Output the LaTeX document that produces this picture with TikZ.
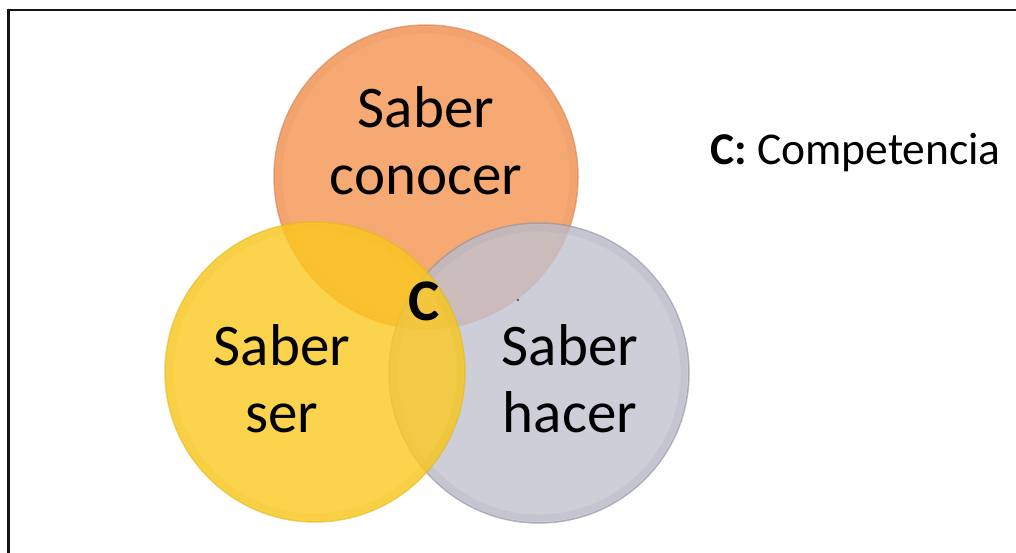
\documentclass[tikz,border=0pt]{standalone}
\usepackage{fontspec}
\setmainfont{Carlito}
\begin{document}
\begin{tikzpicture}[x=1pt,y=-1pt,
  disc/.style={circle,inner sep=0pt,minimum size=300pt,fill opacity=0.8,draw opacity=0.6,line width=1.5pt},
  bevel/.style={line width=7pt,draw opacity=0.12},
  bigtext/.style={anchor=base,inner sep=0pt,font=\fontsize{59}{70}\selectfont},
  legend/.style={anchor=base west,inner sep=0pt,font=\fontsize{45.5}{52}\selectfont}]
\definecolor{orangefill}{RGB}{246,148,80}
\definecolor{orangeedge}{RGB}{210,125,80}
\definecolor{yellowfill}{RGB}{252,201,32}
\definecolor{yellowedge}{RGB}{225,185,20}
\definecolor{grayfill}{RGB}{194,194,208}
\definecolor{grayedge}{RGB}{140,140,158}
\definecolor{frameline}{RGB}{20,20,20}
\useasboundingbox (0,0) rectangle (1016,553);
\fill[white] (0,0) rectangle (1016,553);
% frame: only the top and left sides
\coordinate (tl) at (8.5,10);
\coordinate (tr) at (1016,10);
\coordinate (bl) at (8.5,553);
\draw[frameline,line width=2.2pt] (bl) -- (tl) -- (tr);
% the three circles, each with a soft inner rim
\node[disc,fill=orangefill,draw=orangeedge,minimum size=304pt] (conocer) at (426,177) {};
\draw[bevel,orangeedge] (conocer.center) circle (147pt);
\node[disc,fill=grayfill,draw=grayedge] (hacer) at (539,373) {};
\draw[bevel,grayedge] (hacer.center) circle (145pt);
\node[disc,fill=yellowfill,draw=yellowedge] (ser) at (315,372) {};
\draw[bevel,yellowedge] (ser.center) circle (145pt);
% labels
\node[bigtext] (conocer1) at (426,128) {Saber};
\node[bigtext] (conocer2) at (426,195) {conocer};
\node[bigtext] (ser1) at (282,365) {Saber};
\node[bigtext] (ser2) at (282,432) {ser};
\node[bigtext] (hacer1) at (570,365) {Saber};
\node[bigtext] (hacer2) at (570,432) {hacer};
\node[bigtext,font=\fontsize{59}{70}\selectfont\bfseries] (comp) at (424,320) {C};
\fill[black!80] (518,300) circle (1.2pt);
% legend
\node[legend] (leg) at (710,165) {\textbf{C:} Competencia};
\end{tikzpicture}
\end{document}
